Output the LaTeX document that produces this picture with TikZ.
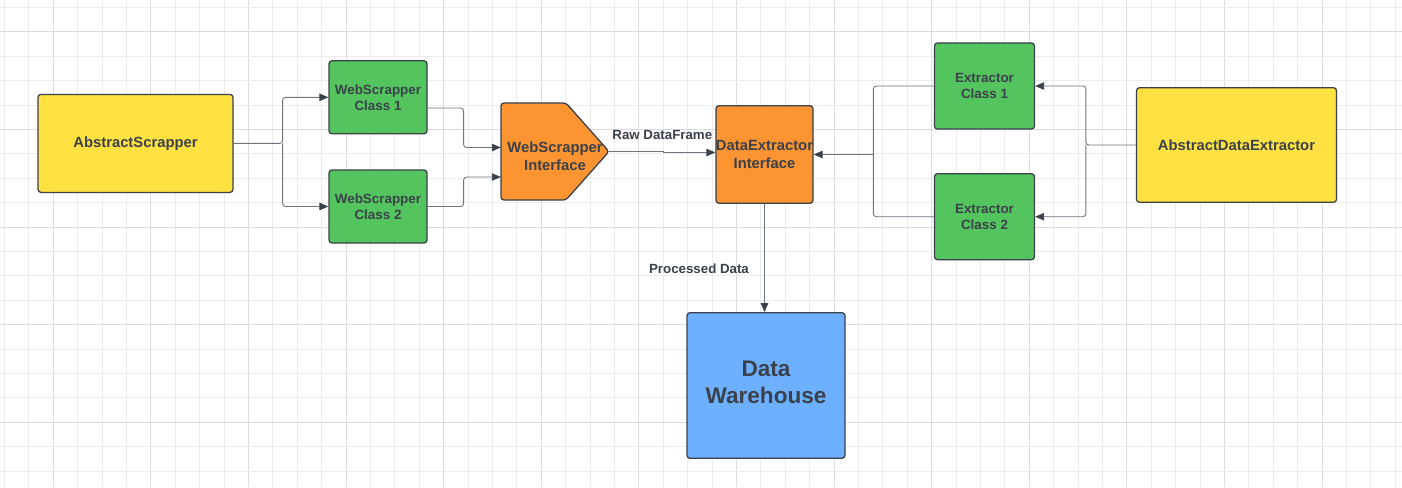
\documentclass[tikz,border=0pt]{standalone}
\usepackage{fontspec}
\setmainfont{Liberation Sans}
\usetikzlibrary{arrows.meta,calc}
\definecolor{txtc}{RGB}{58,65,74}
\definecolor{bordc}{RGB}{58,65,74}
\definecolor{linec}{RGB}{110,117,127}
\definecolor{yel}{RGB}{255,225,65}
\definecolor{grn}{RGB}{84,197,94}
\definecolor{org}{RGB}{252,148,50}
\definecolor{blu}{RGB}{108,176,255}
\definecolor{gridminor}{RGB}{236,236,236}
\definecolor{gridmajor}{RGB}{220,220,220}
\begin{document}
\begin{tikzpicture}[x=1pt,y=-1pt,
 box/.style={draw=bordc,line width=1.3pt,rounded corners=3pt,inner sep=0pt,text=txtc,align=center},
 big/.style={font=\bfseries\fontsize{14.8}{18}\selectfont},
 small/.style={font=\bfseries\fontsize{13.4}{16}\selectfont},
 huge/.style={font=\bfseries\fontsize{22.6}{27.4}\selectfont},
 conn/.style={draw=linec,line width=0.9pt,rounded corners=3pt,-{Triangle[length=9pt,width=7.5pt,color=bordc]}},
 wire/.style={draw=linec,line width=0.9pt,rounded corners=3pt},
 lbl/.style={text=txtc,font=\bfseries\fontsize{13.3}{16}\selectfont,inner sep=0pt}]
\useasboundingbox (0,0) rectangle (1402,487);
\fill[white] (0,0) rectangle (1402,487);
% grid
\foreach \k in {0,...,57} {
  \pgfmathsetmacro\xx{4.5+24.4*\k}
  \pgfmathtruncatemacro\m{mod(\k,4)}
  \ifnum\m=2
    \draw[gridmajor,line width=1pt] (\xx,0) -- (\xx,487);
  \else
    \draw[gridminor,line width=1pt] (\xx,0) -- (\xx,487);
  \fi
}
\foreach \k in {0,...,19} {
  \pgfmathsetmacro\yy{7.5+24.4*\k}
  \pgfmathtruncatemacro\m{mod(\k,4)}
  \ifnum\m=1
    \draw[gridmajor,line width=1pt] (0,\yy) -- (1402,\yy);
  \else
    \draw[gridminor,line width=1pt] (0,\yy) -- (1402,\yy);
  \fi
}
% nodes
\node[box,big,fill=yel,minimum width=195pt,minimum height=98pt] (as) at (135.5,143.4) {AbstractScrapper};
\node[box,small,fill=grn,minimum width=98pt,minimum height=73pt] (c1) at (378,97.3) {WebScrapper\\Class 1};
\node[box,small,fill=grn,minimum width=98pt,minimum height=73pt] (c2) at (378,206.5) {WebScrapper\\Class 2};
\draw[draw=bordc,fill=org,line width=1.3pt,rounded corners=3pt] (501,103) -- (566,103) -- (609,151.5) -- (566,200) -- (501,200) -- cycle;
\node[inner sep=0pt,minimum width=108pt,minimum height=87pt,text=txtc,align=center,big] (wsi) at (555,156.5) {WebScrapper\\Interface};
\node[box,big,fill=org,minimum width=97pt,minimum height=97.6pt] (dei) at (764.5,154.5) {DataExtractor\\Interface};
\node[box,fill=blu,minimum width=158pt,minimum height=145.6pt,
  label={[huge,text=txtc,align=center,yshift=3pt]center:{Data\\Warehouse}}] (dw) at (766,385.5) {};
\node[box,small,fill=grn,minimum width=100pt,minimum height=86pt] (e1) at (984.5,86) {Extractor\\Class 1};
\node[box,small,fill=grn,minimum width=100pt,minimum height=86pt] (e2) at (984.5,216.7) {Extractor\\Class 2};
\node[box,big,fill=yel,minimum width=200pt,minimum height=114.6pt] (ade) at (1236.5,145) {AbstractDataExtractor};
\coordinate (tip) at (609,151.5);
% connectors
\draw[conn] (as.east) -- ++(49,0) coordinate (j1) |- (c1.west);
\draw[conn] (j1) |- (c2.west);
\draw[conn] ($(c1.east)+(0,10.7)$) -- ++(36,0) |- ($(wsi.west)+(0,-9)$);
\draw[conn] (c2.east) -- ++(36,0) |- ($(wsi.west)+(0,20.5)$);
\draw[conn,sharp corners] (tip) -- ++(54,0) -- ++(0,1) -- ($(dei.west)+(0,-2)$);
\draw[conn] (dei.south) -- (dei.south |- dw.north);
\draw[conn] (ade.west) -- ++(-50,0) coordinate (j2) |- (e1.east);
\draw[conn] (j2) |- (e2.east);
\draw[wire] (e1.west) -- ++(-60.5,0) coordinate (j3) -- (j3 |- e2.west) -- (e2.west);
\draw[conn] (j3 |- dei.east) -- (dei.east);
% labels
\node[lbl] (rawlbl) at (662.3,135) {Raw DataFrame};
\node[lbl] (proclbl) at (699,269) {Processed Data};
\end{tikzpicture}
\end{document}
